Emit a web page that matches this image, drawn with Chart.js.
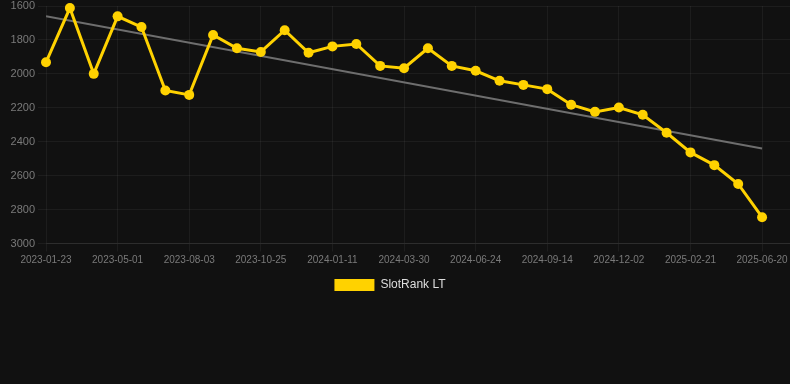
<!DOCTYPE html>
<html>
<head>
<meta charset="utf-8">
<script src="https://cdn.jsdelivr.net/npm/chart.js@4.4.0/dist/chart.umd.min.js"></script>
<style>
  html, body { margin: 0; padding: 0; background: #111111; }
  #wrap { width: 790px; height: 301px; position: relative; }
</style>
</head>
<body>
<div id="wrap"><canvas id="rankChart"></canvas></div>
<script>
// dates of each reading (every 3rd one shows on the axis)
const dates = [
  "2023-01-23", "2023-02-24", "2023-03-29", "2023-05-01", "2023-06-01",
  "2023-07-02", "2023-08-03", "2023-08-31", "2023-09-28", "2023-10-25",
  "2023-11-20", "2023-12-16", "2024-01-11", "2024-02-06", "2024-03-04",
  "2024-03-30", "2024-04-28", "2024-05-27", "2024-06-24", "2024-07-21",
  "2024-08-17", "2024-09-14", "2024-10-10", "2024-11-06", "2024-12-02",
  "2024-12-29", "2025-01-25", "2025-02-21", "2025-04-01", "2025-05-11",
  "2025-06-20"
];

// SlotRank LT values
const rankLT = [
  1932, 1612, 2000, 1661, 1724, 2098, 2124, 1771, 1849, 1871,
  1743, 1876, 1838, 1824, 1953, 1967, 1849, 1953, 1982, 2041,
  2065, 2090, 2182, 2224, 2198, 2241, 2347, 2463, 2538, 2649,
  2845
];

// trend line ends (first and last reading)
const trendStart = 1661;
const trendEnd = 2440;

const yTicks = [1600, 1800, 2000, 2200, 2400, 2600, 2800, 3000];

Chart.defaults.font.family = "Arial, 'Liberation Sans', sans-serif";

const rankPoints = rankLT.map((v, i) => ({ x: i, y: v }));
const trendPoints = [
  { x: 0, y: trendStart },
  { x: dates.length - 1, y: trendEnd }
];

// nudge the legend a little to the left like the original
const legendShift = {
  id: "legendShift",
  afterLayout(chart) {
    chart.legend.left -= 5;
    chart.legend.right -= 5;
  },
};

const ctx = document.getElementById("rankChart").getContext("2d");
const rankChart = new Chart(ctx, {
  type: "line",
  data: {
    datasets: [
      {
        label: "SlotRank LT",
        data: rankPoints,
        borderColor: "#ffd200",
        backgroundColor: "#ffd200",
        borderWidth: 3,
        pointRadius: 5,
        pointBorderWidth: 0,
        pointBackgroundColor: "#ffd200",
        tension: 0,
        clip: false,
        order: 1,
      },
      {
        label: "trend",
        data: trendPoints,
        borderColor: "#6e6e6e",
        borderWidth: 2,
        pointRadius: 0,
        fill: false,
        order: 2,
      },
    ],
  },
  options: {
    responsive: true,
    maintainAspectRatio: false,
    animation: false,
    layout: { padding: 0, autoPadding: false },
    plugins: {
      legend: {
        position: "bottom",
        labels: {
          color: "#dddddd",
          font: { size: 12 },
          boxWidth: 40,
          boxHeight: 12,
          filter: (item) => item.text !== "trend",
          generateLabels: (chart) => {
            const items = Chart.defaults.plugins.legend.labels.generateLabels(chart);
            items.forEach((it) => { it.lineWidth = 0; });
            return items;
          },
        },
      },
      tooltip: { enabled: false },
    },
    scales: {
      x: {
        type: "linear",
        min: 0,
        max: 31.17,
        grid: { color: "rgba(255,255,255,0.05)" },
        border: { color: "rgba(255,255,255,0.07)" },
        afterFit: (scale) => {
          scale.paddingLeft = 0;
          scale.paddingRight = 0;
          scale.height = 25.5;
        },
        ticks: {
          stepSize: 3,
          includeBounds: false,
          autoSkip: false,
          maxRotation: 0,
          padding: 2.5,
          color: "#7a7a7a",
          font: { size: 10 },
          callback: (v) => dates[v],
        },
      },
      y: {
        reverse: true,
        min: yTicks[0],
        max: yTicks[yTicks.length - 1],
        grid: { color: "rgba(255,255,255,0.05)" },
        border: { display: false },
        afterBuildTicks: (scale) => {
          scale.ticks = yTicks.map((v) => ({ value: v }));
        },
        afterFit: (scale) => {
          scale.width = 46;
          scale.paddingTop = 6;
          scale.paddingBottom = 0;
        },
        ticks: {
          color: "#7a7a7a",
          font: { size: 11 },
          callback: (v) => String(v),
        },
      },
    },
  },
  plugins: [legendShift],
});
</script>
</body>
</html>
